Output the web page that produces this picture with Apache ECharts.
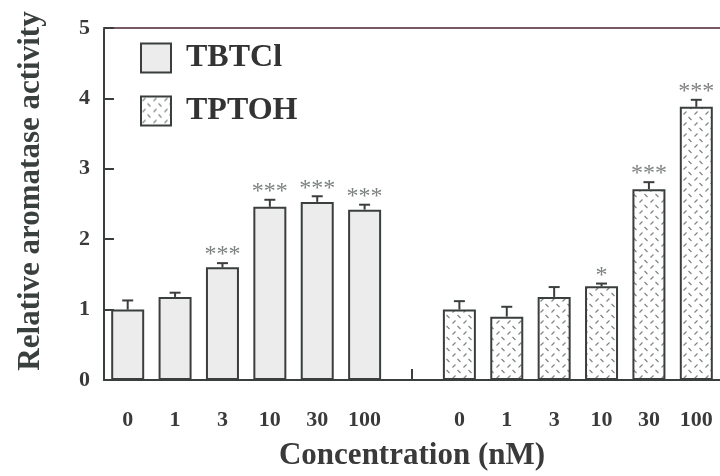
<!DOCTYPE html>
<html>
<head>
<meta charset="utf-8">
<script src="https://cdn.jsdelivr.net/npm/echarts@6/dist/echarts.min.js"></script>
<style>
html,body{margin:0;padding:0;background:#fff;}
#chart{width:720px;height:476px;}
</style>
</head>
<body>
<div id="chart"></div>
<script>
// ---- data ----
const categories = ['0','1','3','10','30','100','','0','1','3','10','30','100'];
const tbtclValues = [1.00, 1.18, 1.60, 2.46, 2.53, 2.42];
const tbtclErrors = [0.13, 0.06, 0.06, 0.10, 0.08, 0.07];
const tbtclSig    = ['', '', '***', '***', '***', '***'];
const tptohValues = [1.00, 0.90, 1.18, 1.33, 2.71, 3.88];
const tptohErrors = [0.12, 0.14, 0.14, 0.04, 0.10, 0.10];
const tptohSig    = ['', '', '', '*', '***', '***'];
const yTicks = [0, 1, 2, 3, 4, 5];

const SERIF = '"Liberation Serif","Times New Roman",serif';
const TBT_OFFSET = 0, TPT_OFFSET = 7;

// texture for TPTOH bars
function makePattern(){
  const c = document.createElement('canvas');
  c.width = 11; c.height = 11;
  const g = c.getContext('2d');
  g.fillStyle = '#ffffff'; g.fillRect(0,0,11,11);
  g.strokeStyle = '#7f8582'; g.lineWidth = 1.2;
  g.beginPath();
  g.moveTo(1.5,4.5); g.lineTo(4.5,1.5);
  g.moveTo(6.5,7); g.lineTo(9.5,10);
  g.stroke();
  return c;
}
const pattern = {image: makePattern(), repeat: 'repeat'};

const tbtData = categories.map((c,i)=> (i>=TBT_OFFSET && i<TBT_OFFSET+6) ? tbtclValues[i-TBT_OFFSET] : null);
const tptData = categories.map((c,i)=> (i>=TPT_OFFSET && i<TPT_OFFSET+6) ? tptohValues[i-TPT_OFFSET] : null);

function errSeries(name, vals, errs, sig, offset){
  return {
    type: 'custom',
    name: name + ' err',
    z: 5,
    silent: true,
    encode: {x: 0, y: 1},
    data: vals.map((v,i)=>[i+offset, v, errs[i]]),
    renderItem(params, api){
      const x = api.value(0), v = api.value(1), e = api.value(2);
      const top = api.coord([x, v+e]);
      const base = api.coord([x, v]);
      const cap = 5.5;
      const s = sig[params.dataIndex];
      const children = [
        {type:'line', shape:{x1:top[0], y1:base[1], x2:top[0], y2:top[1]}, style:{stroke:'#3a3f3d', lineWidth:2}},
        {type:'line', shape:{x1:top[0]-cap, y1:top[1], x2:top[0]+cap, y2:top[1]}, style:{stroke:'#3a3f3d', lineWidth:2}}
      ];
      if (s) {
        children.push({type:'text', style:{text:s, x:top[0], y:top[1]+4, align:'center', verticalAlign:'bottom',
          fill:'#7d8280', font:'24px ' + SERIF}});
      }
      return {type:'group', children};
    }
  };
}

const chart = echarts.init(document.getElementById('chart'), null, {renderer:'canvas'});
chart.setOption({
  backgroundColor: '#ffffff',
  animation: false,
  grid: {left: 104, top: 28, width: 620, height: 357},
  legend: {
    orient: 'vertical', left: 135, top: 37,
    itemWidth: 30, itemHeight: 29, itemGap: 21,
    icon: 'rect',
    data: ['TBTCl', 'TPTOH'],
    textStyle: {fontFamily: SERIF, fontWeight: 'bold', fontSize: 32, color: '#333', padding: [0,0,0,10]}
  },
  xAxis: [{
    type: 'category',
    data: categories,
    position: 'bottom',
    axisLine: {lineStyle: {color: '#3a3f3d', width: 2}},
    axisTick: {show: true, inside: true, length: 11, alignWithLabel: true,
      interval: (i) => i === 6, lineStyle: {color: '#3a3f3d', width: 2}},
    axisLabel: {interval: 0, margin: 29, fontFamily: SERIF, fontWeight: 'bold', fontSize: 22, color: '#3a3a3a'},
    name: 'Concentration (nM)',
    nameLocation: 'middle',
    nameGap: 60,
    nameTextStyle: {fontFamily: SERIF, fontWeight: 'bold', fontSize: 31, color: '#3a3a3a'}
  }, {
    type: 'category',
    data: categories,
    position: 'top',
    axisLine: {lineStyle: {color: '#7a5a62', width: 2}},
    axisTick: {show: false},
    axisLabel: {show: false}
  }],
  yAxis: {
    type: 'value',
    min: 0, max: 5, interval: 1,
    axisLine: {show: true, lineStyle: {color: '#3a3f3d', width: 2}},
    axisTick: {show: true, inside: true, length: 10, lineStyle: {color: '#3a3f3d', width: 2}},
    splitLine: {show: false},
    axisLabel: {margin: 14, fontFamily: SERIF, fontWeight: 'bold', fontSize: 22, color: '#3a3a3a',
      formatter: (v) => yTicks.includes(v) ? String(v) : ''},
    name: 'Relative aromatase activity',
    nameLocation: 'middle',
    nameGap: 58,
    nameRotate: 90,
    nameTextStyle: {fontFamily: SERIF, fontWeight: 'bold', fontSize: 31, color: '#3a403d', padding: [0,0,0,26]}
  },
  series: [
    {
      name: 'TBTCl', type: 'bar', data: tbtData, barWidth: 33, barGap: '-100%',
      itemStyle: {color: '#ececec', borderColor: '#3a3f3d', borderWidth: 2}
    },
    {
      name: 'TPTOH', type: 'bar', data: tptData, barWidth: 33, barGap: '-100%',
      itemStyle: {color: pattern, borderColor: '#3a3f3d', borderWidth: 2}
    },
    errSeries('TBTCl', tbtclValues, tbtclErrors, tbtclSig, TBT_OFFSET),
    errSeries('TPTOH', tptohValues, tptohErrors, tptohSig, TPT_OFFSET)
  ]
});
</script>
</body>
</html>
